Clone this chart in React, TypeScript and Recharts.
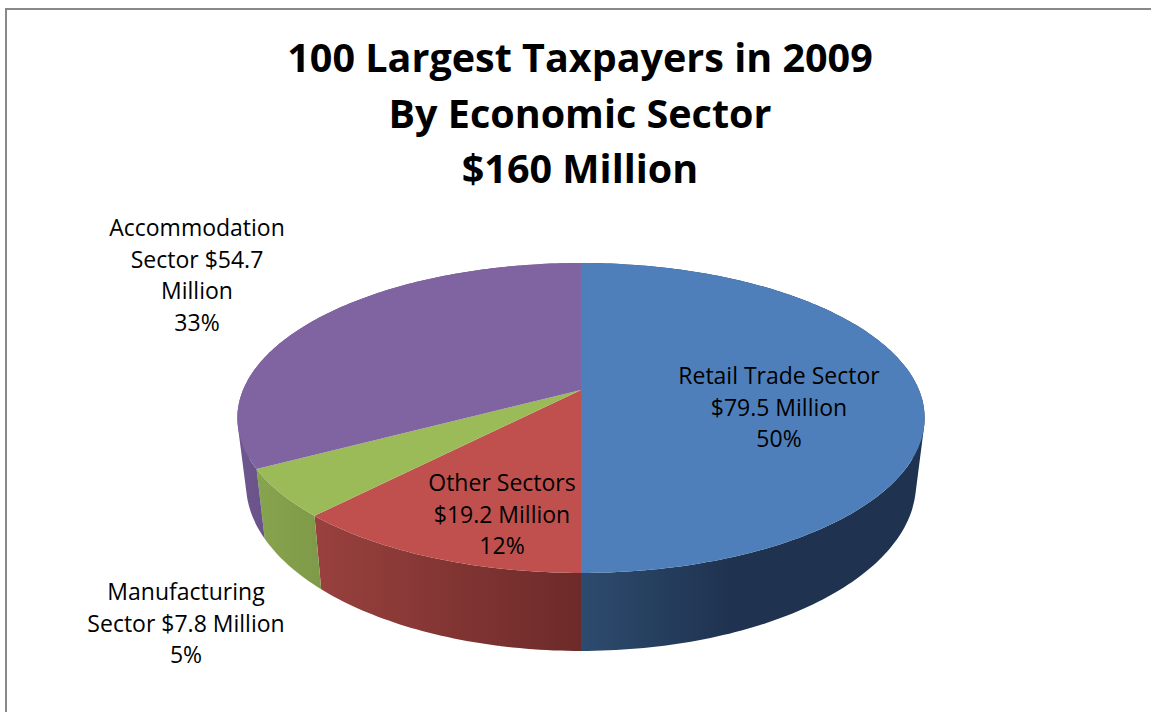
import { PieChart, Pie } from "recharts";

// percentages printed on the slices, clockwise from twelve o'clock
const sectors = ["Retail Trade Sector", "Other Sectors", "Manufacturing Sector", "Accommodation Sector"];
const shares = [50, 12, 5, 33];
const labelLines = [
  ["Retail Trade Sector", "$79.5 Million", "50%"],
  ["Other Sectors", "$19.2 Million", "12%"],
  ["Manufacturing", "Sector $7.8 Million", "5%"],
  ["Accommodation", "Sector $54.7", "Million", "33%"],
];
const titleLines = ["100 Largest Taxpayers in 2009", "By Economic Sector", "$160 Million"];

const tableData = sectors.map((name, i) => ({ name, share: shares[i] }));

const topColors = ["#4e7fbb", "#c0504d", "#9bbb59", "#8064a2"];
const wallColors = [
  ["#2d4b6e", "#1f3350"],
  ["#99413e", "#6c2a29"],
  ["#87a44e", "#7f9a48"],
  ["#6f5790", "#6a5389"],
];
const wallStops = [
  [581, 730],
  [313, 581],
  [255, 320],
  [237, 263],
];
const labelAnchors = [
  [779, 384],
  [502, 491],
  [186, 600],
  [197, 236],
];

const CX = 581;
const CY = 390;
const RADIUS = 338;
const YSCALE = 149.9 / 338;
const PERSPECTIVE = 0.1806;
const LINE_HEIGHT = 31.5;

// the 3d tilt: a circle seen in perspective, near side larger than far side
function project(cx: number, cy: number, r: number, deg: number) {
  const a = (deg * Math.PI) / 180;
  const x = Math.cos(a);
  const y = -Math.sin(a);
  const k = 1 - PERSPECTIVE * y;
  return [cx + (r * x) / k, cy + (r * YSCALE * y) / k];
}

// bottom rim of the pie
function lower([x, y]: number[]) {
  return [581 + 0.975 * (x - 581), 651 + 1.08 * (y - 573)];
}

const toPath = (pts: number[][]) => pts.map((p) => `${p[0].toFixed(1)},${p[1].toFixed(1)}`).join(" L");

// one small quad per step, all wound the same way so the band fills past the left and right extremes
function wallQuad(a: number[], b: number[]) {
  const quad = [a, b, lower(b), lower(a)];
  let area = 0;
  quad.forEach((p, i) => {
    const q = quad[(i + 1) % 4];
    area += p[0] * q[1] - q[0] * p[1];
  });
  return `M${toPath(area < 0 ? quad.reverse() : quad)} Z`;
}

function SliceShape(props: any) {
  const { cx, cy, outerRadius, startAngle, endAngle, index } = props;
  const rim: number[][] = [];
  const steps = Math.ceil(Math.abs(endAngle - startAngle));
  for (let i = 0; i <= steps; i++) {
    rim.push(project(cx, cy, outerRadius, startAngle + ((endAngle - startAngle) * i) / steps));
  }
  const wall = rim.slice(1).map((p, i) => wallQuad(rim[i], p)).join(" ");
  const top = `M${cx},${cy} L${toPath(rim)} Z`;
  const id = `wall-${index}`;
  return (
    <g>
      <defs>
        <linearGradient id={id} gradientUnits="userSpaceOnUse" x1={wallStops[index][0]} x2={wallStops[index][1]} y1={0} y2={0}>
          <stop offset="0%" stopColor={wallColors[index][0]} />
          <stop offset="100%" stopColor={wallColors[index][1]} />
        </linearGradient>
      </defs>
      <path d={wall} fill={`url(#${id})`} />
      <path d={top} fill={topColors[index]} />
    </g>
  );
}

function SliceLabel({ index }: any) {
  const [x, y] = labelAnchors[index];
  return (
    <text x={x} y={y} textAnchor="middle" fontFamily="'Open Sans', sans-serif" fontSize={23} fill="#000">
      {labelLines[index].map((line, i) => (
        <tspan key={line} x={x} y={y + i * LINE_HEIGHT}>
          {line}
        </tspan>
      ))}
    </text>
  );
}

export default function App() {
  return (
    <div style={{ position: "absolute", left: 0, top: 0, width: 1151, height: 712, overflow: "hidden", background: "#fff" }}>
      <div style={{ position: "absolute", left: 5, top: 8, right: 0, bottom: 0, borderLeft: "2px solid #888", borderTop: "2px solid #888" }} />
      <div
        style={{
          position: "absolute",
          left: 0,
          top: 30,
          width: 1160,
          textAlign: "center",
          fontFamily: "'Open Sans', sans-serif",
          fontWeight: 700,
          fontSize: 39.5,
          lineHeight: "55.5px",
          color: "#000",
        }}
      >
        {titleLines.map((line) => (
          <div key={line}>{line}</div>
        ))}
      </div>
      <div style={{ position: "absolute", left: 0, top: 0 }}>
        <PieChart width={1151} height={712} margin={{ top: 0, right: 0, bottom: 0, left: 0 }}>
          <Pie
            data={tableData}
            dataKey="share"
            nameKey="name"
            cx={CX}
            cy={CY}
            outerRadius={RADIUS}
            startAngle={90}
            endAngle={-270}
            stroke="none"
            shape={SliceShape}
            label={SliceLabel}
            labelLine={false}
            isAnimationActive={false}
          />
        </PieChart>
      </div>
    </div>
  );
}
